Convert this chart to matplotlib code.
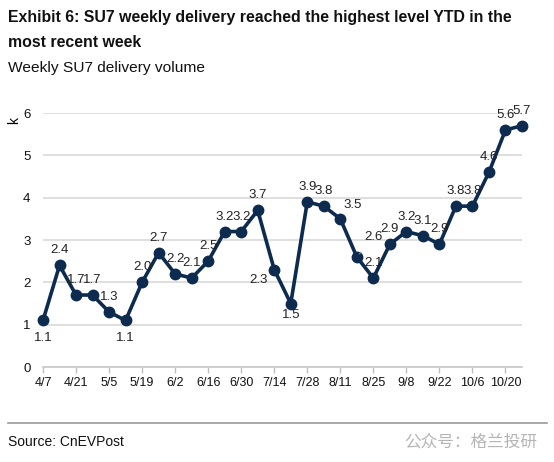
import matplotlib
matplotlib.use("Agg")
import matplotlib.pyplot as plt

# weekly SU7 deliveries (k units), week starting dates
weeks = ["4/7", "4/14", "4/21", "4/28", "5/5", "5/12", "5/19", "5/26", "6/2", "6/9",
         "6/16", "6/23", "6/30", "7/7", "7/14", "7/21", "7/28", "8/4", "8/11", "8/18",
         "8/25", "9/1", "9/8", "9/15", "9/22", "9/29", "10/6", "10/13", "10/20", "10/27"]
volume = [1.1, 2.4, 1.7, 1.7, 1.3, 1.1, 2.0, 2.7, 2.2, 2.1,
          2.5, 3.2, 3.2, 3.7, 2.3, 1.5, 3.9, 3.8, 3.5, 2.6,
          2.1, 2.9, 3.2, 3.1, 2.9, 3.8, 3.8, 4.6, 5.6, 5.7]
yticks = [0, 1, 2, 3, 4, 5, 6]

navy = "#0d2a4f"
plt.rcParams["font.family"] = ["Liberation Sans", "DejaVu Sans"]

fig = plt.figure(figsize=(5.54, 4.62), dpi=100)
ax = fig.add_axes([43 / 554, 1 - 367 / 462, (522 - 43) / 554, (367 - 113) / 462])

x = list(range(len(weeks)))
ax.plot(x, volume, color=navy, lw=2.6, marker="o", ms=7.5, clip_on=False, zorder=3)

# label offsets in pixels (most labels sit above the point)
offsets = {0: (0, -18), 5: (0, -18), 14: (-16, -10), 15: (0, -12), 18: (12, 14)}
for i, v in enumerate(volume):
    dx, dy = offsets.get(i, (0, 15))
    if i == 19:
        ax.annotate(f"{v:.1f}", (i, v), xytext=(17 * 0.72, 20 * 0.72), textcoords="offset points",
                    ha="center", va="center", fontsize=9.5, color="#222222",
                    arrowprops=dict(arrowstyle="-", color="#999999", lw=0.8, shrinkA=6, shrinkB=3))
        continue
    ax.annotate(f"{v:.1f}", (i, v), xytext=(dx * 0.72, dy * 0.72), textcoords="offset points",
                ha="center", va="center", fontsize=9.5, color="#222222")

ax.set_xlim(0, len(weeks) - 1)
ax.set_ylim(0, 6)
ax.set_yticks(yticks)
ax.set_xticks(x[::2])
ax.set_xticklabels(weeks[::2])
ax.tick_params(axis="y", length=0, pad=9, labelsize=9.5, labelcolor="#111111")
ax.tick_params(axis="x", length=4, width=1, color="#bfbfbf", pad=3, labelsize=9,
               labelcolor="#111111")
ax.yaxis.grid(True, color="#d9d9d9", lw=1.2)
ax.set_axisbelow(True)
for s in ["top", "right", "left"]:
    ax.spines[s].set_visible(False)
ax.spines["bottom"].set_color("#c8c8c8")
ax.spines["bottom"].set_linewidth(1.2)
ax.text(-29 / 479, 1 - 8 / 254, "k", rotation=90, transform=ax.transAxes,
        ha="center", va="center", fontsize=10)

# header texts, sized to the widths seen in the reference
title1 = fig.text(8 / 554, 1 - 22 / 462,
                  "Exhibit 6: SU7 weekly delivery reached the highest level YTD in the",
                  ha="left", va="baseline", fontsize=12, fontweight="bold", color="#111111")
title2 = fig.text(8 / 554, 1 - 47 / 462, "most recent week",
                  ha="left", va="baseline", fontsize=12, fontweight="bold", color="#111111")
sub = fig.text(8 / 554, 1 - 72 / 462, "Weekly SU7 delivery volume", ha="left", va="baseline",
               fontsize=12, color="#111111")

r = fig.canvas.get_renderer()
for t, w in [(title1, 504), (sub, 197)]:
    cur = t.get_window_extent(r).width
    t.set_fontsize(t.get_fontsize() * w / cur)
title2.set_fontsize(title1.get_fontsize())

fig.add_artist(plt.Line2D([8 / 554, 547 / 554], [1 - 423 / 462] * 2, color="#9a9a9a", lw=1.2))
fig.text(8 / 554, 1 - 446 / 462, "Source: CnEVPost", ha="left", va="baseline",
         fontsize=10, color="#111111")
fig.text(537 / 554, 1 - 442 / 462, "公众号：格兰投研", ha="right", va="center", fontsize=12,
         family=["Noto Sans CJK SC", "DejaVu Sans"], color="#b5b5b5")

fig.savefig("out.png", dpi=100)
